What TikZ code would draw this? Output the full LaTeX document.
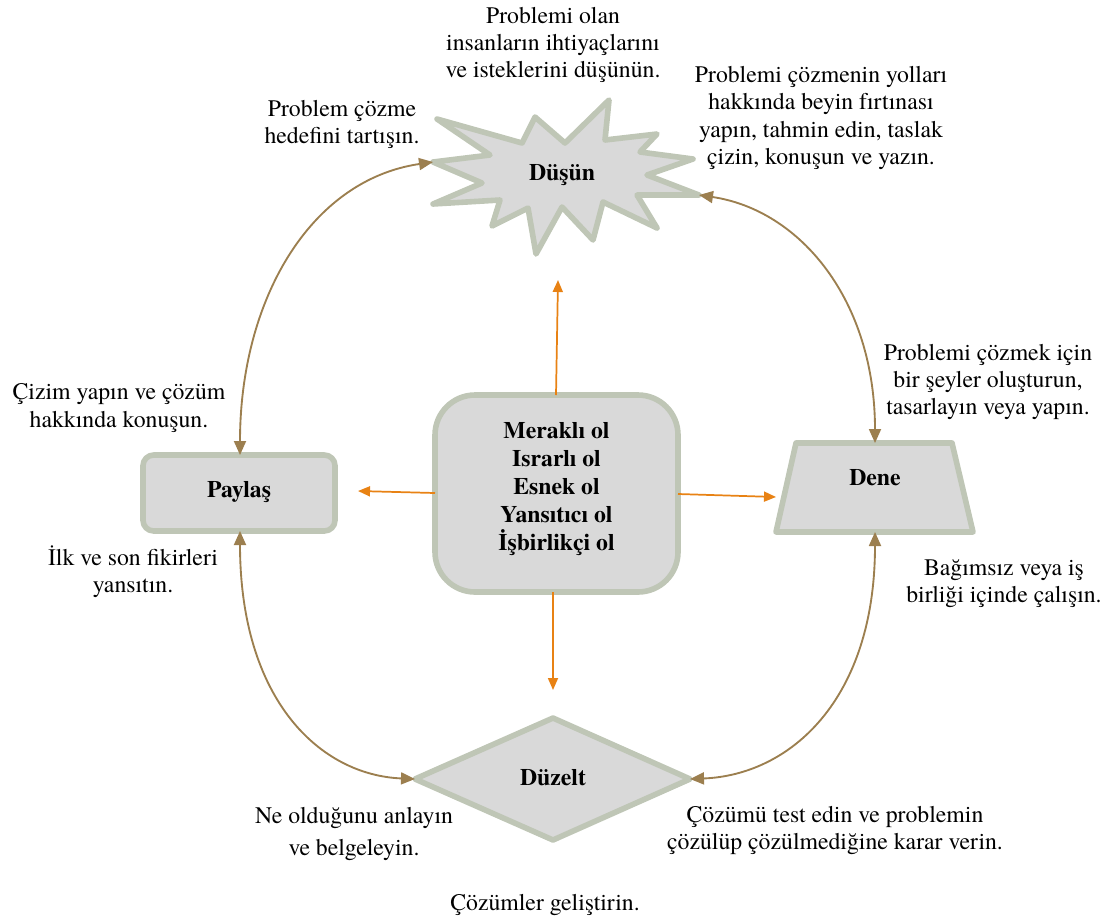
\documentclass[tikz,border=0pt]{standalone}
\usepackage{fontspec}
\setmainfont{TeX Gyre Termes}
\usetikzlibrary{arrows.meta}
\definecolor{shapefill}{RGB}{217,217,217}
\definecolor{shapeline}{RGB}{191,198,182}
\definecolor{cyclebrown}{RGB}{156,127,79}
\definecolor{spokeorange}{RGB}{232,130,20}
\tikzset{
  shapestyle/.style={fill=shapefill, draw=shapeline, line width=4.2pt, line join=round},
  titletext/.style={font=\fontsize{17.8}{21}\selectfont\bfseries, align=center},
  notetext/.style={font=\fontsize{17.8}{20.3}\selectfont, align=center, inner sep=0pt},
  cycle/.style={draw=cyclebrown, line width=1.4pt,
    {Triangle[length=10.5pt,width=9pt]}-{Triangle[length=10.5pt,width=9pt]}},
  spoke/.style={draw=spokeorange, line width=1.3pt, -{Triangle[length=9pt,width=7.5pt]}}
}
\begin{document}
\begin{tikzpicture}[x=0.75pt,y=-0.75pt]
\useasboundingbox (0,0) rectangle (1105,922);

% Düşün: the burst
\filldraw[shapestyle]
  (433,162) -- (490,155) -- (437,119) -- (522,143) -- (535,117) -- (565,143)
  -- (609,100) -- (605,140) -- (657,134) -- (640,152) -- (693,159) -- (647,175)
  -- (699,195) -- (637,195) -- (657,228) -- (603,202) -- (593,240) -- (562,207)
  -- (536,254) -- (528,208) -- (492,226) -- (500,200) -- (433,204) -- (482,183)
  -- cycle;
\node[titletext] (think) at (562,175) {Düşün};
\coordinate (thinkL) at (433,162);
\coordinate (thinkR) at (699,195);

% centre box
\filldraw[shapestyle, rounded corners=30pt] (435,395) rectangle (678,592);
\node[titletext, inner sep=0pt] (core) at (556.5,489)
  {Meraklı ol\\Israrlı ol\\Esnek ol\\Yansıtıcı ol\\İşbirlikçi ol};
\coordinate (coreT) at (556,395);
\coordinate (coreB) at (553,592);
\coordinate (coreL) at (435,493);
\coordinate (coreR) at (678,494);
\coordinate (coreTgoal) at (558,280);

% Paylaş
\filldraw[shapestyle, rounded corners=8pt] (143,455) rectangle (335,531);
\node[titletext] (share) at (239,492) {Paylaş};
\coordinate (shareT) at (240,455);
\coordinate (shareB) at (240,531);
\coordinate (shareR) at (358,491);

% Dene
\filldraw[shapestyle] (796,443) -- (952,443) -- (973,532) -- (776,532) -- cycle;
\node[titletext] (try) at (875,478) {Dene};
\coordinate (tryT) at (875,443);
\coordinate (tryB) at (875,532);
\coordinate (tryL) at (776,497);

% Düzelt
\filldraw[shapestyle] (553,718) -- (690,779) -- (553,840) -- (415,779) -- cycle;
\node[titletext] (fix) at (553,778) {Düzelt};
\coordinate (fixL) at (415,779);
\coordinate (fixR) at (690,779);
\coordinate (fixT) at (553,690);

% cycle connectors
\draw[cycle] (shareT) .. controls (240,300) and (310,180) .. (thinkL);
\draw[cycle] (thinkR) .. controls (800,210) and (875,300) .. (tryT);
\draw[cycle] (shareB) .. controls (240,700) and (320,775) .. (fixL);
\draw[cycle] (tryB) .. controls (875,700) and (790,775) .. (fixR);

% spokes from the centre box
\draw[spoke] (coreT) -- (coreTgoal);
\draw[spoke] (coreL) -- (shareR);
\draw[spoke] (coreR) -- (tryL);
\draw[spoke] (coreB) -- (fixT);

% notes
\node[notetext] (n1) at (553,45) {Problemi olan\\insanların ihtiyaçlarını\\ve isteklerini düşünün.};
\node[notetext] (n2) at (821,118) {Problemi çözmenin yolları\\hakkında beyin fırtınası\\yapın, tahmin edin, taslak\\çizin, konuşun ve yazın.};
\node[notetext] (n3) at (342,124) {Problem çözme\\hedefini tartışın.};
\node[notetext] (n4) at (988,382) {Problemi çözmek için\\bir şeyler oluşturun,\\tasarlayın veya yapın.};
\node[notetext] (n5) at (119,408) {Çizim yapın ve çözüm\\hakkında konuşun.};
\node[notetext] (n6) at (133,572) {İlk ve son fikirleri\\yansıtın.};
\node[notetext] (n7) at (1004,584) {Bağımsız veya iş\\birliği içinde çalışın.};
\node[notetext, font=\fontsize{17.8}{23.5}\selectfont] (n8) at (354,834) {Ne olduğunu anlayın\\ve belgeleyin.};
\node[notetext] (n9) at (835,830) {Çözümü test edin ve problemin\\çözülüp çözülmediğine karar verin.};
\node[notetext] (n10) at (545,905) {Çözümler geliştirin.};
\end{tikzpicture}
\end{document}
